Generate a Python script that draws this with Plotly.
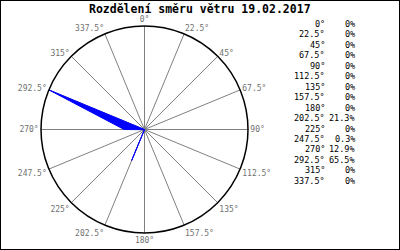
import plotly.graph_objects as go

directions = [0, 22.5, 45, 67.5, 90, 112.5, 135, 157.5, 180, 202.5, 225, 247.5, 270, 292.5, 315, 337.5]
dir_labels = ["0", "22.5", "45", "67.5", "90", "112.5", "135", "157.5", "180", "202.5", "225", "247.5", "270", "292.5", "315", "337.5"]
percent = [0, 0, 0, 0, 0, 0, 0, 0, 0, 21.3, 0, 0.3, 12.9, 65.5, 0, 0]
pct_labels = ["0", "0", "0", "0", "0", "0", "0", "0", "0", "21.3", "0", "0.3", "12.9", "65.5", "0", "0"]
title_text = "Rozdělení směru větru 19.02.2017"

W, H = 400, 250
fig = go.Figure()
fig.add_trace(go.Scatterpolar(
    r=percent + [percent[0]], theta=directions + [directions[0]],
    mode="lines", fill="toself", fillcolor="#0000ff",
    line=dict(color="#0000ff", width=1), hoverinfo="skip", showlegend=False))

cx, cy, rad = 144.5, 129.5, 103.5
fig.update_layout(
    width=W, height=H, margin=dict(l=0, r=0, t=0, b=0),
    paper_bgcolor="white", plot_bgcolor="white", showlegend=False,
    polar=dict(
        domain=dict(x=[(cx - rad) / W, (cx + rad) / W], y=[1 - (cy + rad) / H, 1 - (cy - rad) / H]),
        bgcolor="white",
        radialaxis=dict(visible=False, range=[0, max(percent)], showgrid=False),
        angularaxis=dict(
            rotation=90, direction="clockwise",
            tickmode="array", tickvals=directions, ticktext=[d + "°" for d in dir_labels],
            showgrid=True, gridcolor="#808080", gridwidth=1,
            showline=True, linecolor="black", linewidth=1.5,
            ticks="", tickfont=dict(family="DejaVu Sans Mono", size=8, color="#707070"),
        ),
    ),
    font=dict(family="DejaVu Sans Mono"),
)

fig.add_annotation(text="<b>" + title_text + "</b>", x=200 / W, y=1 - 8.5 / H,
                   xref="paper", yref="paper", xanchor="center", yanchor="middle",
                   showarrow=False, font=dict(family="DejaVu Sans Mono", size=11.5, color="black"))

y0, dy = 24, 10.45
for i, (d, p) in enumerate(zip(dir_labels, pct_labels)):
    yy = 1 - (y0 + i * dy) / H
    fig.add_annotation(text=d + "°", x=327 / W, y=yy, xref="paper", yref="paper",
                       xanchor="right", yanchor="middle", showarrow=False,
                       font=dict(family="DejaVu Sans Mono", size=8.5, color="black"))
    fig.add_annotation(text=p + "%", x=357 / W, y=yy, xref="paper", yref="paper",
                       xanchor="right", yanchor="middle", showarrow=False,
                       font=dict(family="DejaVu Sans Mono", size=8.5, color="black"))

fig.add_shape(type="rect", xref="paper", yref="paper", x0=0, y0=0, x1=1, y1=1,
              line=dict(color="black", width=2))

fig.write_html("out.html")
